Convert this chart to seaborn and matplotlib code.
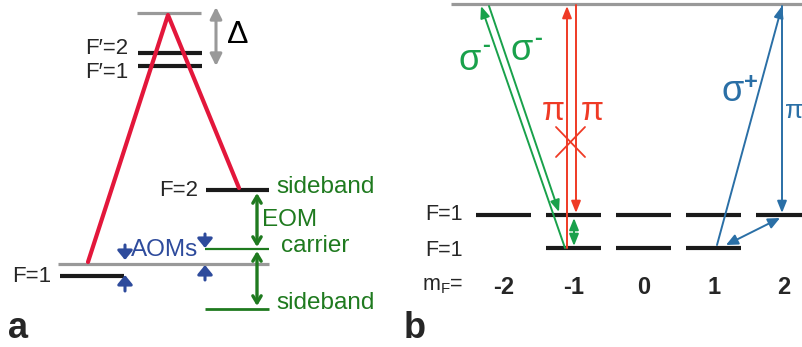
import numpy as np
import seaborn as sns
import matplotlib.pyplot as plt

sns.set_style("white")
plt.rcParams["font.family"] = ["Liberation Sans", "DejaVu Sans"]
plt.rcParams["mathtext.fontset"] = "custom"
plt.rcParams["mathtext.rm"] = "Liberation Sans"
plt.rcParams["mathtext.it"] = "Liberation Sans"

# ---- panel a: level positions (pixel units, y grows down) ----
a_level_names = ["virtual", "F'=2", "F'=1", "F=2", "F=1 shifted", "F=1"]
a_level_y = [13, 53, 66, 190, 264, 276]
a_level_x0 = [137, 138, 138, 206, 58, 60]
a_level_x1 = [201, 202, 202, 269, 269, 124]
a_level_col = ["#999999", "#1a1a1a", "#1a1a1a", "#1a1a1a", "#999999", "#1a1a1a"]
a_level_lw = [2.3, 3.0, 3.0, 3.0, 2.3, 3.0]

# EOM sidebands / carrier
eom_names = ["sideband", "carrier", "sideband"]
eom_y = [190, 249, 309]
eom_text_y = [187, 246, 303]
eom_text_x = [276, 281, 276]

# Raman beams (red) : F=1 -> virtual -> F=2
raman_x = [88, 168, 239]
raman_y = [262, 15, 188]

# AOM shift arrows (x, tail y, head y)
aom_arrows = [(125, 245, 260), (125, 291, 275), (205, 234, 248), (205, 280, 265)]

# ---- panel b ----
mf = [-2, -1, 0, 1, 2]
mf_x0, mf_dx = 644, 70
upper_mf = [-2, -1, 0, 1, 2]
lower_mf = [-1, 0, 1]
b_excited_y = 4
b_upper_y = 215
b_lower_y = 248

green_a = "#1f7a1f"
green_b = "#19a14b"
red_a = "#e3173b"
red_b = "#ef3a25"
blue_a = "#2e4b9c"
blue_b = "#2a6fa6"
gray = "#999999"

fig = plt.figure(figsize=(8.03, 3.47), dpi=100)
ax = fig.add_axes([0, 0, 1, 1])
ax.set_xlim(0, 803)
ax.set_ylim(347, 0)
ax.axis("off")

# panel a levels
for y, x0, x1, c, lw in zip(a_level_y, a_level_x0, a_level_x1, a_level_col, a_level_lw):
    ax.hlines(y, x0, x1, color=c, lw=lw)
ax.hlines(eom_y[1], 205, 269, color=green_a, lw=1.6)
ax.hlines(eom_y[2], 205, 269, color=green_a, lw=2.0)

sns.lineplot(x=raman_x, y=raman_y, sort=False, color=red_a, lw=3.0, ax=ax)

# Delta arrow
ax.annotate("", xy=(216, 7), xytext=(216, 66),
            arrowprops=dict(arrowstyle="<|-|>,head_width=0.35,head_length=0.7", color=gray, lw=2.2,
                            shrinkA=0, shrinkB=0))
ax.text(238, 35, "\u0394", fontsize=23, ha="center", va="center", color="black")

# EOM arrows
for ya, yb in [(193, 247), (251, 306)]:
    ax.annotate("", xy=(257, ya), xytext=(257, yb),
                arrowprops=dict(arrowstyle="<->,head_width=0.3,head_length=0.5", color=green_a, lw=2.4,
                                shrinkA=0, shrinkB=0))
for name, tx, ty in zip(eom_names, eom_text_x, eom_text_y):
    ax.text(tx, ty, name, fontsize=17.5, color=green_a, va="center", ha="left")
ax.text(262, 220, "EOM", fontsize=17.5, color=green_a, va="center", ha="left")

# AOM small arrows
for x, y0, y1 in aom_arrows:
    ax.annotate("", xy=(x, y1), xytext=(x, y0),
                arrowprops=dict(arrowstyle="-|>,head_width=0.45,head_length=0.55", color=blue_a, lw=2.2,
                                shrinkA=0, shrinkB=0))
ax.text(131, 250, "AOMs", fontsize=17.5, color=blue_a, va="center", ha="left")

# level labels a
ax.text(128, 48, "F\u2032=2", fontsize=16, ha="right", va="center")
ax.text(128, 72, "F\u2032=1", fontsize=16, ha="right", va="center")
ax.text(198, 190, "F=2", fontsize=16, ha="right", va="center")
ax.text(51, 276, "F=1", fontsize=16, ha="right", va="center")
ax.text(8, 328, "a", fontsize=26, fontweight="bold", ha="left", va="center")

# ---- panel b ----
ax.hlines(b_excited_y, 451, 803, color=gray, lw=2.3)
for m in upper_mf:
    xc = mf_x0 + mf_dx * m
    ax.hlines(b_upper_y, xc - 27.5, xc + 27.5, color="#1a1a1a", lw=3.0)
for m in lower_mf:
    xc = mf_x0 + mf_dx * m
    ax.hlines(b_lower_y, xc - 27.5, xc + 27.5, color="#1a1a1a", lw=3.0)
for m in mf:
    ax.text(mf_x0 + mf_dx * m, 287, str(m), fontsize=17, fontweight="bold", ha="center", va="center")
ax.text(463, 214, "F=1", fontsize=15.5, ha="right", va="center")
ax.text(463, 250, "F=1", fontsize=15.5, ha="right", va="center")
ax.text(463, 286, r"m$_\mathregular{F}$=", fontsize=15.5, ha="right", va="center")
ax.text(404, 328, "b", fontsize=26, fontweight="bold", ha="left", va="center")


def arrow(p0, p1, color, style="-|>", hw=0.28):
    ax.annotate("", xy=p1, xytext=p0,
                arrowprops=dict(arrowstyle=style + ",head_width=%g,head_length=0.7" % hw, color=color, lw=1.4,
                                shrinkA=0, shrinkB=0))


# sigma- (green)
arrow((565, 248), (481, 6), green_b)
arrow((489, 6), (559, 212), green_b)
arrow((574, 246), (574, 218), green_b, "<|-|>")
ax.text(470, 60, "\u03c3", fontsize=26, color=green_b, ha="center", va="center")
ax.text(486, 45, "-", fontsize=17, fontweight="bold", color=green_b, ha="center", va="center")
ax.text(522, 50, "\u03c3", fontsize=26, color=green_b, ha="center", va="center")
ax.text(538, 38, "-", fontsize=17, fontweight="bold", color=green_b, ha="center", va="center")

# pi (red)
arrow((567, 248), (567, 6), red_b)
arrow((576, 5), (576, 213), red_b)
ax.plot([556, 585], [127, 157], color=red_b, lw=1.3)
ax.plot([556, 585], [157, 127], color=red_b, lw=1.3)
ax.text(553, 111, "\u03c0", fontsize=24, color=red_b, ha="center", va="center")
ax.text(592, 111, "\u03c0", fontsize=24, color=red_b, ha="center", va="center")

# sigma+ / pi (blue)
arrow((717, 245), (782, 6), blue_b)
arrow((782, 6), (782, 213), blue_b)
arrow((726, 245), (780, 218), blue_b, "<|-|>", 0.32)
ax.text(733, 91, "\u03c3", fontsize=26, color=blue_b, ha="center", va="center")
ax.text(751, 82, "+", fontsize=17, fontweight="bold", color=blue_b, ha="center", va="center")
ax.text(785, 111, "\u03c0", fontsize=19, color=blue_b, ha="left", va="center")

fig.savefig("out.png", dpi=100)
